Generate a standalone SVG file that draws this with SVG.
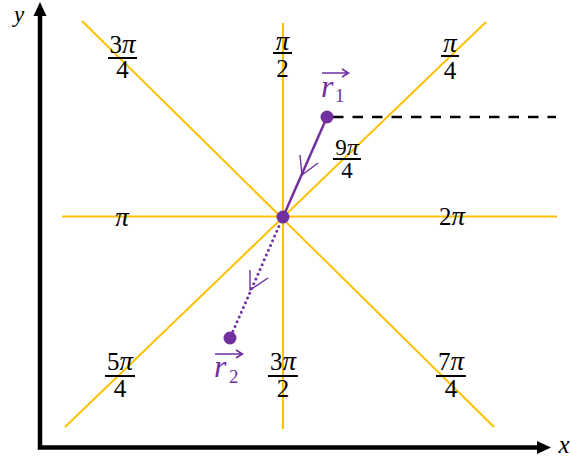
<svg xmlns="http://www.w3.org/2000/svg" width="570" height="461" viewBox="0 0 570 461">
<style>
.ray{stroke:#FFC000;stroke-width:2;fill:none}
.axis{stroke:#000;stroke-width:4.5;fill:none}
.t{font-family:"Liberation Serif","DejaVu Serif",serif;font-size:25px;fill:#000;text-anchor:middle}
.s{font-size:23px}
.it{font-style:italic}
.p{font-style:italic;font-size:27px}
.bar{stroke:#000;stroke-width:2}
.vec{stroke:#7030A0;fill:none}
.pt{fill:#7030A0}
.pl{font-family:"Liberation Serif","DejaVu Serif",serif;fill:#7030A0;font-style:italic;font-size:32px}
.sub{font-family:"Liberation Serif","DejaVu Serif",serif;fill:#7030A0;font-size:19px}
.chev{stroke:#7030A0;stroke-width:1.4;fill:none}
</style>
<rect width="570" height="461" fill="#fff"/>
<g id="rays">
<line class="ray" x1="283" y1="23" x2="283" y2="429"/>
<line class="ray" x1="62" y1="216.5" x2="557" y2="216.5"/>
<line class="ray" x1="82" y1="21" x2="494" y2="427"/>
<line class="ray" x1="486" y1="22" x2="65" y2="427"/>
</g>
<g id="axes">
<polyline class="axis" points="40,15 40,447.5 538,447.5"/>
<polygon points="40,2 33.5,16 46.5,16"/>
<polygon points="551,447.5 537,441 537,454"/>
<text class="t it" x="19" y="22" style="font-size:23px">y</text>
<text class="t it" x="564" y="453">x</text>
</g>
<g id="labels">
<g id="l3pi4"><text class="t" x="122.5" y="53">3<tspan class="p">π</tspan></text><line class="bar" x1="108" y1="58" x2="137" y2="58"/><text class="t" x="122.5" y="78">4</text></g>
<g id="lpi2"><text class="t p" x="282.5" y="50">π</text><line class="bar" x1="273" y1="53" x2="292" y2="53"/><text class="t" x="282.5" y="77">2</text></g>
<g id="lpi4"><text class="t p" x="450" y="52">π</text><line class="bar" x1="441" y1="56" x2="459" y2="56"/><text class="t" x="450" y="79">4</text></g>
<g id="lpi"><text class="t p" x="122" y="226">π</text></g>
<g id="l2pi"><text class="t" x="452" y="225">2<tspan class="p">π</tspan></text></g>
<g id="l9pi4"><text class="t s" x="347" y="155">9<tspan class="p" style="font-size:24px">π</tspan></text><line class="bar" x1="333" y1="159" x2="361" y2="159"/><text class="t s" x="347" y="178">4</text></g>
<g id="l5pi4"><text class="t" x="120" y="370">5<tspan class="p">π</tspan></text><line class="bar" x1="105" y1="376" x2="135" y2="376"/><text class="t" x="120" y="397">4</text></g>
<g id="l3pi2"><text class="t" x="283" y="370">3<tspan class="p">π</tspan></text><line class="bar" x1="268" y1="376" x2="298" y2="376"/><text class="t" x="283" y="397">2</text></g>
<g id="l7pi4"><text class="t" x="451" y="370">7<tspan class="p">π</tspan></text><line class="bar" x1="436" y1="376" x2="466" y2="376"/><text class="t" x="451" y="397">4</text></g>
</g>
<g id="connectors">
<line x1="333" y1="117" x2="556" y2="117" stroke="#000" stroke-width="2.5" stroke-dasharray="10.5 9"/>
<line class="vec" x1="327" y1="117" x2="283" y2="217" stroke-width="2.5"/>
<polyline class="chev" points="300,155 302,175 318,163"/>
<line class="vec" x1="283" y1="217" x2="230" y2="338" stroke-width="3" stroke-linecap="round" stroke-dasharray="0 5.2"/>
<polyline class="chev" points="250,270 250,290 268,278"/>
</g>
<g id="center"><circle class="pt" cx="283" cy="217" r="6.5"/></g>
<g id="r1">
<circle class="pt" cx="327" cy="117" r="6.5"/>
<text class="pl" x="321" y="97">r</text>
<text class="sub" x="335" y="102">1</text>
<path class="vec" d="M322,73 H348 M342,69 L348.5,73 L342,77" stroke-width="1.6"/>
</g>
<g id="r2">
<circle class="pt" cx="230" cy="338" r="6.5"/>
<text class="pl" x="214" y="377">r</text>
<text class="sub" x="229" y="383">2</text>
<path class="vec" d="M215,354 H242 M236,350 L242.5,354 L236,358" stroke-width="1.6"/>
</g>
</svg>
